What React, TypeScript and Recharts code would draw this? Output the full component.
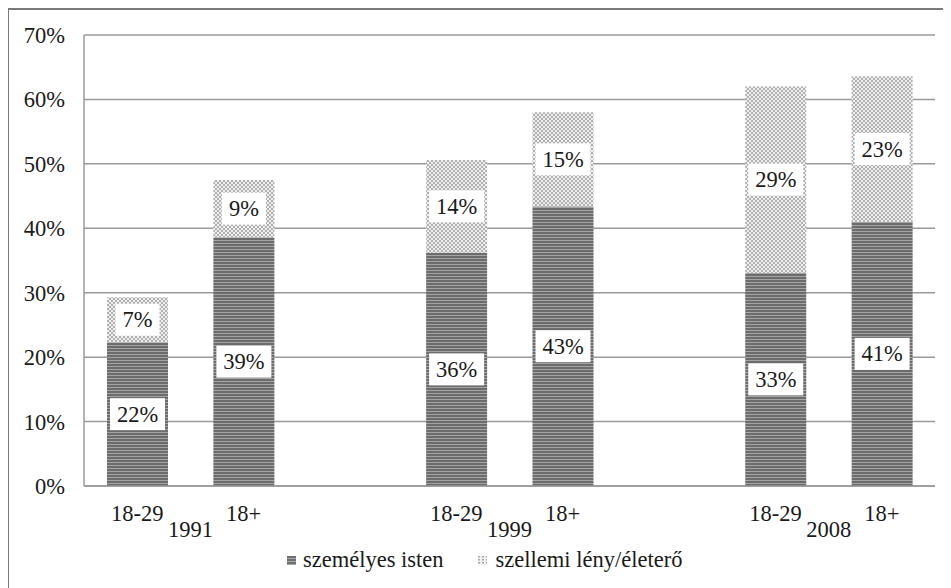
import React from 'react';
import { BarChart, Bar, XAxis, YAxis, CartesianGrid, LabelList } from 'recharts';

const categories = ['18-29', '18+', '', '18-29', '18+', '', '18-29', '18+'];
const years = ['1991', '', '', '1999', '', '', '2008', ''];
const personalGod = [22.3, 38.6, null, 36.2, 43.4, null, 33.1, 41.0];
const spiritForce = [7.0, 8.9, null, 14.4, 14.6, null, 28.9, 22.6];
const yTicks = [0, 10, 20, 30, 40, 50, 60, 70];
const seriesNames = ['személyes isten', 'szellemi lény/életerő'];

const data = categories.map((c, i) => ({
  key: 'c' + i,
  label: c,
  year: years[i],
  personal: personalGod[i],
  spirit: spiritForce[i],
}));

const FONT = '"Liberation Serif", "Times New Roman", serif';
const FS = 22.5;
const W = 934;
const H = 580;
const XH = 60;
const MARGIN = { top: 25, right: 8, left: 0, bottom: 104 - XH };
const YW = 75;
const SLOT = (W - MARGIN.left - MARGIN.right - YW) / categories.length;

const XTick = (props: any) => {
  const { x, y, index } = props;
  const label = categories[index];
  const year = years[index];
  return (
    <g>
      <text x={x} y={y + 27} textAnchor="middle" fontFamily={FONT} fontSize={FS} fill="#1a1a1a">
        {label}
      </text>
      {year ? (
        <text x={x + SLOT / 2} y={y + 43} textAnchor="middle" fontFamily={FONT} fontSize={FS} fill="#1a1a1a">
          {year}
        </text>
      ) : null}
    </g>
  );
};

const BoxLabel = (props: any) => {
  const { x, y, width, height, value } = props;
  if (value == null) return null;
  const txt = Math.round(value) + '%';
  const cx = x + width / 2;
  const cy = y + height / 2;
  const tw = txt.length * 11 + 6;
  const bw = tw + 16;
  const bh = 32;
  return (
    <g>
      <rect x={cx - bw / 2} y={cy - bh / 2} width={bw} height={bh} fill="#ffffff" />
      <text x={cx} y={cy + 7.5} textAnchor="middle" fontFamily={FONT} fontSize={FS} fill="#1a1a1a">
        {txt}
      </text>
    </g>
  );
};

const Icon = ({ kind }: { kind: 'dark' | 'light' }) => (
  <svg width={9} height={9} style={{ display: 'block' }}>
    <defs>
      <pattern id={'lg-' + kind} width={4} height={3} patternUnits="userSpaceOnUse">
        {kind === 'dark' ? (
          <>
            <rect width={4} height={3} fill="#6e6e6e" />
            <rect y={2} width={4} height={1} fill="#a8a8a8" />
          </>
        ) : (
          <>
            <rect width={4} height={4} fill="#f0f0f0" />
            <rect width={2} height={1.5} fill="#a8a8a8" />
          </>
        )}
      </pattern>
    </defs>
    <rect width={9} height={9} fill={'url(#lg-' + kind + ')'} />
  </svg>
);

export default function App() {
  return (
    <div
      style={{
        position: 'relative',
        width: W,
        height: H + 10,
        border: '2px solid #7a7a7a',
        marginLeft: -1,
        background: '#fff',
      }}
    >
      <style>{'html,body{overflow:hidden;}'}</style>
      <BarChart width={W} height={H} data={data} margin={MARGIN} barSize={61}>
        <defs>
          <pattern id="darkStripe" width={4} height={3} patternUnits="userSpaceOnUse">
            <rect width={4} height={3} fill="#6c6c6c" />
            <rect y={2} width={4} height={1} fill="#a4a4a4" />
          </pattern>
          <pattern id="lightDots" width={4} height={4} patternUnits="userSpaceOnUse">
            <rect width={4} height={4} fill="#efefef" />
            <rect x={0} y={0} width={2} height={2} fill="#b0b0b0" />
            <rect x={2} y={2} width={2} height={2} fill="#b0b0b0" />
          </pattern>
        </defs>
        <CartesianGrid vertical={false} stroke="#9a9a9a" strokeWidth={1.5} />
        <XAxis
          dataKey="key"
          interval={0}
          tickLine={false}
          axisLine={{ stroke: '#9a9a9a', strokeWidth: 1.5 }}
          tick={<XTick />}
          height={XH}
        />
        <YAxis
          domain={[0, 70]}
          ticks={yTicks}
          width={YW}
          tickLine={false}
          axisLine={{ stroke: '#9a9a9a', strokeWidth: 1.5 }}
          tickMargin={13}
          tickFormatter={(v: number) => v + '%'}
          tick={{ fontFamily: FONT, fontSize: FS, fill: '#1a1a1a' }}
        />
        <Bar dataKey="personal" name={seriesNames[0]} stackId="s" fill="url(#darkStripe)" isAnimationActive={false}>
          <LabelList dataKey="personal" content={<BoxLabel />} />
        </Bar>
        <Bar dataKey="spirit" name={seriesNames[1]} stackId="s" fill="url(#lightDots)" isAnimationActive={false}>
          <LabelList dataKey="spirit" content={<BoxLabel />} />
        </Bar>
      </BarChart>
      <div
        style={{
          position: 'absolute',
          top: 537,
          left: 278,
          display: 'flex',
          alignItems: 'center',
          fontFamily: FONT,
          fontSize: FS,
          lineHeight: '26px',
          color: '#1a1a1a',
          whiteSpace: 'nowrap',
        }}
      >
        <Icon kind="dark" />
        <span style={{ marginLeft: 7 }}>{seriesNames[0]}</span>
        <span style={{ marginLeft: 34 }}>
          <Icon kind="light" />
        </span>
        <span style={{ marginLeft: 9 }}>{seriesNames[1]}</span>
      </div>
    </div>
  );
}
